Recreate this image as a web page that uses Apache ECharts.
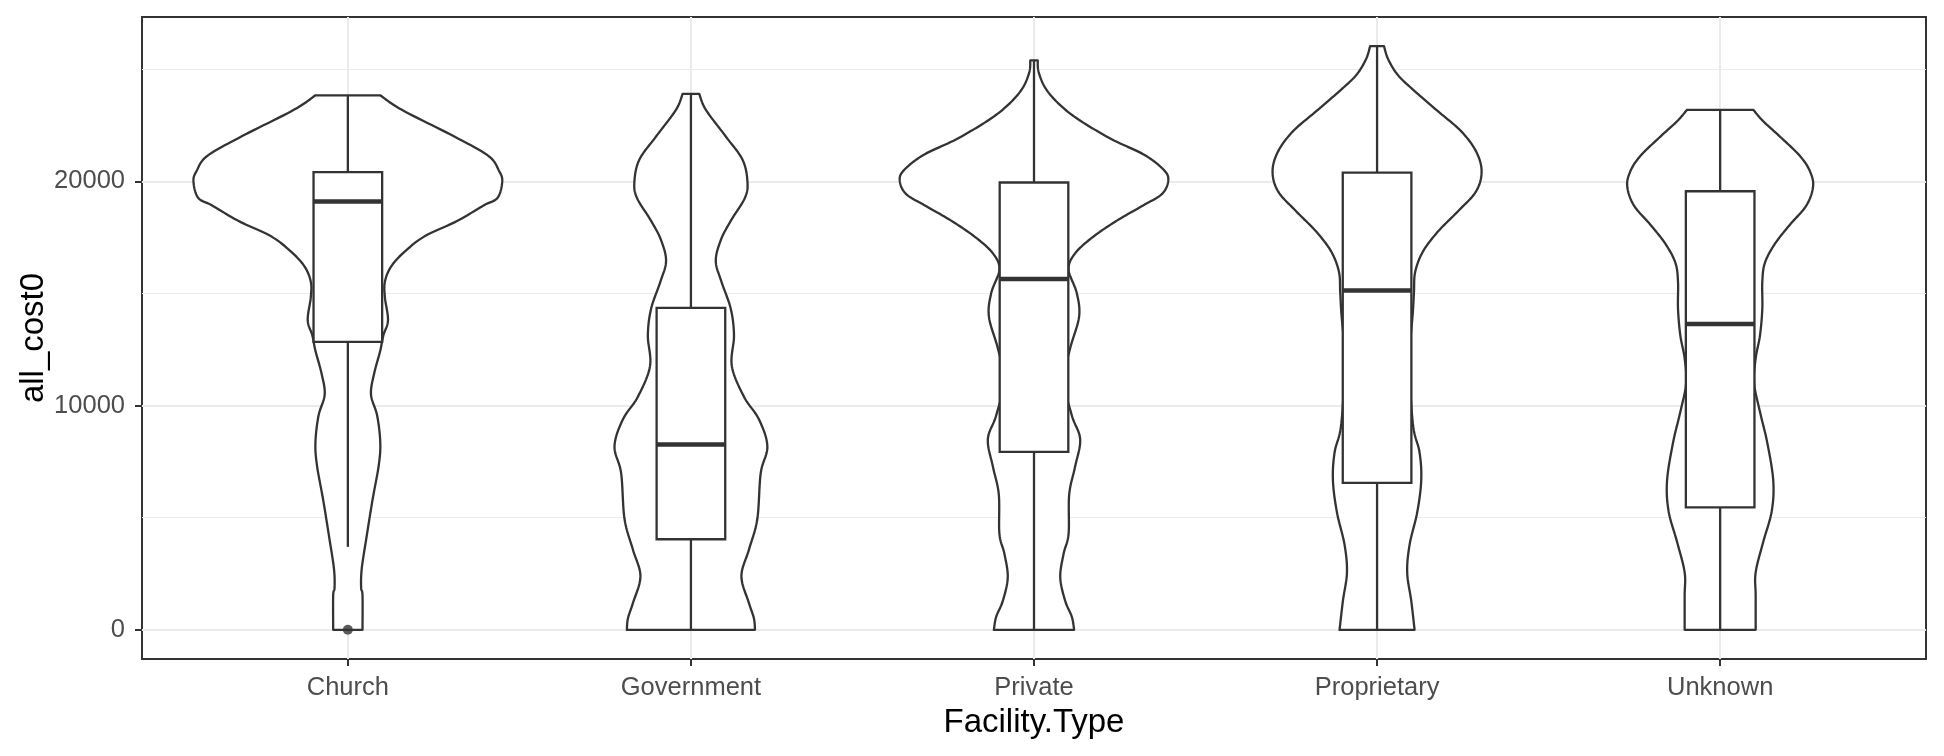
<!DOCTYPE html>
<html>
<head>
<meta charset="utf-8">
<script src="https://cdn.jsdelivr.net/npm/echarts@6/dist/echarts.min.js"></script>
<style>
html,body{margin:0;padding:0;background:#ffffff;}
#chart{width:1944px;height:756px;}
</style>
</head>
<body>
<div id="chart"></div>
<script>
// ---------------- data ----------------
const categories = ['Church', 'Government', 'Private', 'Proprietary', 'Unknown'];

// violin outlines: [all_cost0 value, relative density (1 = widest violin)]
const churchViolin = [
  [23840,0.21],[23190,0.35],[22000,0.69],[21140,0.91],[20460,0.98],[20000,1.00],
  [19270,0.97],[18930,0.88],[18240,0.71],[17560,0.50],[16880,0.37],[16200,0.28],
  [15520,0.24],[14830,0.24],[13810,0.26],[13130,0.23],[12450,0.21],[11420,0.17],
  [10490,0.15],[9550,0.19],[8350,0.21],[7330,0.20],[5800,0.16],[4090,0.12],
  [2730,0.09],[1880,0.086],[1530,0.095],[0,0.095]
];
const governmentViolin = [
  [23900,0.054],[23190,0.097],[22000,0.226],[20970,0.334],[20000,0.366],[19270,0.35],
  [18240,0.258],[17390,0.194],[16450,0.161],[15520,0.198],[14320,0.258],[13130,0.279],
  [11760,0.265],[10390,0.344],[9380,0.441],[8180,0.495],[6990,0.452],[4940,0.43],
  [3580,0.376],[2390,0.327],[1190,0.376],[510,0.408],[0,0.415]
];
const privateViolin = [
  [25400,0.024],[24880,0.03],[24170,0.073],[23470,0.159],[22760,0.288],[21880,0.503],
  [21180,0.716],[20480,0.845],[20000,0.869],[19420,0.826],[18890,0.697],[18190,0.523],
  [17480,0.374],[16780,0.265],[16070,0.224],[15020,0.277],[13960,0.292],[12550,0.234],
  [11140,0.194],[9560,0.245],[8500,0.299],[7270,0.266],[6040,0.228],[4280,0.224],
  [3400,0.192],[2340,0.17],[1290,0.202],[580,0.245],[0,0.26]
];
const proprietaryViolin = [
  [26030,0.045],[25460,0.071],[24740,0.135],[24030,0.243],[23130,0.394],[22240,0.544],
  [21340,0.641],[20450,0.677],[19550,0.641],[18660,0.523],[17760,0.394],[16870,0.297],
  [15970,0.247],[15080,0.239],[14190,0.232],[12000,0.21],[9180,0.232],[7920,0.275],
  [6670,0.286],[5240,0.26],[3810,0.211],[2560,0.195],[1310,0.221],[0,0.243]
];
const unknownViolin = [
  [23190,0.215],[22680,0.279],[22000,0.387],[21140,0.516],[20460,0.581],[19780,0.602],
  [18930,0.559],[18070,0.452],[17220,0.355],[16370,0.29],[15520,0.273],[14320,0.273],
  [13130,0.258],[12110,0.23],[11000,0.22],[9720,0.258],[8350,0.305],[6650,0.344],
  [5290,0.334],[3920,0.279],[2560,0.23],[1530,0.23],[0,0.23]
];

// box statistics: [lower whisker, Q1, median, Q3, upper whisker]
const churchBox      = [3700, 12840, 19100, 20410, 23840];
const governmentBox  = [0, 4040, 8270, 14360, 23900];
const privateBox     = [0, 7940, 15650, 19950, 25400];
const proprietaryBox = [0, 6550, 15130, 20390, 26030];
const unknownBox     = [0, 5460, 13640, 19560, 23190];

// outliers: [category position (1-based), value]
const outlierPoints = [[1, 0]];

const yTicks = [0, 10000, 20000];
const yMinorTicks = [5000, 15000, 25000];
const xTicks = [1, 2, 3, 4, 5];
const dataMax = 26030;

// ---------------- chart ----------------
const violins = [churchViolin, governmentViolin, privateViolin, proprietaryViolin, unknownViolin];
const boxes = [churchBox, governmentBox, privateBox, proprietaryBox, unknownBox];

const yPad = dataMax * 0.05;
const yMin = -yPad, yMax = dataMax + yPad;

const INK = '#333333';
const FONT = '"Liberation Sans", Arial, sans-serif';
const LW = 2.3;

function spline(pts, steps) {
  const out = [];
  const n = pts.length;
  for (let i = 0; i < n - 1; i++) {
    const p0 = pts[Math.max(i - 1, 0)], p1 = pts[i], p2 = pts[i + 1], p3 = pts[Math.min(i + 2, n - 1)];
    for (let s = 0; s < steps; s++) {
      const t = s / steps, t2 = t * t, t3 = t2 * t;
      const f = (a, b, c, d) => 0.5 * (2 * b + (-a + c) * t + (2 * a - 5 * b + 4 * c - d) * t2 + (-a + 3 * b - 3 * c + d) * t3);
      out.push([f(p0[0], p1[0], p2[0], p3[0]), f(p0[1], p1[1], p2[1], p3[1])]);
    }
  }
  out.push(pts[n - 1]);
  return out;
}

function renderViolinBox(params, api) {
  const i = params.dataIndex;
  const cx = api.value(0);
  const v = violins[i];
  const b = boxes[i];
  const half = 0.45;
  const bw = 0.1;
  const left = v.map(p => api.coord([cx - p[1] * half, p[0]]));
  const right = v.map(p => api.coord([cx + p[1] * half, p[0]]));
  const outline = spline(left, 12).concat(spline(right, 12).reverse());
  const children = [];
  children.push({
    type: 'polygon',
    shape: { points: outline },
    style: { fill: '#ffffff', stroke: INK, lineWidth: LW, lineJoin: 'round' }
  });
  const top = api.coord([cx, b[4]]), q3 = api.coord([cx, b[3]]);
  const q1 = api.coord([cx, b[1]]), bot = api.coord([cx, b[0]]);
  children.push({ type: 'line', shape: { x1: top[0], y1: top[1], x2: q3[0], y2: q3[1] }, style: { stroke: INK, lineWidth: LW } });
  children.push({ type: 'line', shape: { x1: q1[0], y1: q1[1], x2: bot[0], y2: bot[1] }, style: { stroke: INK, lineWidth: LW } });
  const tl = api.coord([cx - bw, b[3]]), br = api.coord([cx + bw, b[1]]);
  children.push({
    type: 'rect',
    shape: { x: tl[0], y: tl[1], width: br[0] - tl[0], height: br[1] - tl[1] },
    style: { fill: '#ffffff', stroke: INK, lineWidth: LW }
  });
  const ml = api.coord([cx - bw, b[2]]), mr = api.coord([cx + bw, b[2]]);
  children.push({ type: 'line', shape: { x1: ml[0], y1: ml[1], x2: mr[0], y2: mr[1] }, style: { stroke: INK, lineWidth: 4.5 } });
  return { type: 'group', children: children };
}

const chart = echarts.init(document.getElementById('chart'), null, { renderer: 'canvas' });
chart.setOption({
  animation: false,
  backgroundColor: '#ffffff',
  grid: {
    left: 142, right: 18, top: 17, bottom: 97,
    show: true, borderColor: INK, borderWidth: 2, backgroundColor: '#ffffff'
  },
  xAxis: {
    type: 'value', min: 0.4, max: 5.6,
    axisLine: { show: false, onZero: false },
    axisTick: { show: true, customValues: xTicks, length: 7, lineStyle: { color: INK, width: 2 } },
    axisLabel: {
      customValues: xTicks, margin: 16, fontSize: 25.5, color: '#4D4D4D', fontFamily: FONT,
      formatter: v => categories[Math.round(v) - 1] || ''
    },
    splitLine: { show: true, lineStyle: { color: '#EBEBEB', width: 2 } },
    name: 'Facility.Type', nameLocation: 'middle', nameGap: 47, nameMoveOverlap: false,
    nameTextStyle: { fontSize: 33, color: '#000000', fontFamily: FONT }
  },
  yAxis: [{
    type: 'value', min: yMin, max: yMax,
    axisLine: { show: false, onZero: false },
    axisTick: { show: true, customValues: yTicks, length: 7, lineStyle: { color: INK, width: 2 } },
    axisLabel: {
      customValues: yTicks, margin: 17, fontSize: 25.5, color: '#4D4D4D', fontFamily: FONT,
      formatter: v => String(Math.round(v))
    },
    splitLine: { show: true, lineStyle: { color: '#EBEBEB', width: 2 } },
    name: 'all_cost0', nameLocation: 'middle', nameGap: 92, nameRotate: 90, nameMoveOverlap: false,
    nameTextStyle: { fontSize: 33, color: '#000000', fontFamily: FONT }
  }, {
    type: 'value', min: yMin, max: yMax, position: 'left',
    axisLine: { show: false, onZero: false },
    axisTick: { show: false, customValues: yMinorTicks },
    axisLabel: { show: false, customValues: yMinorTicks },
    splitLine: { show: true, lineStyle: { color: '#EBEBEB', width: 1 } }
  }],
  series: [{
    type: 'custom',
    xAxisIndex: 0, yAxisIndex: 0,
    renderItem: renderViolinBox,
    data: categories.map((c, i) => [i + 1, boxes[i][2]]),
    silent: true, z: 3
  }, {
    type: 'scatter',
    xAxisIndex: 0, yAxisIndex: 0,
    data: outlierPoints,
    symbol: 'circle', symbolSize: 10,
    itemStyle: { color: INK },
    silent: true, z: 4
  }]
});
</script>
</body>
</html>
